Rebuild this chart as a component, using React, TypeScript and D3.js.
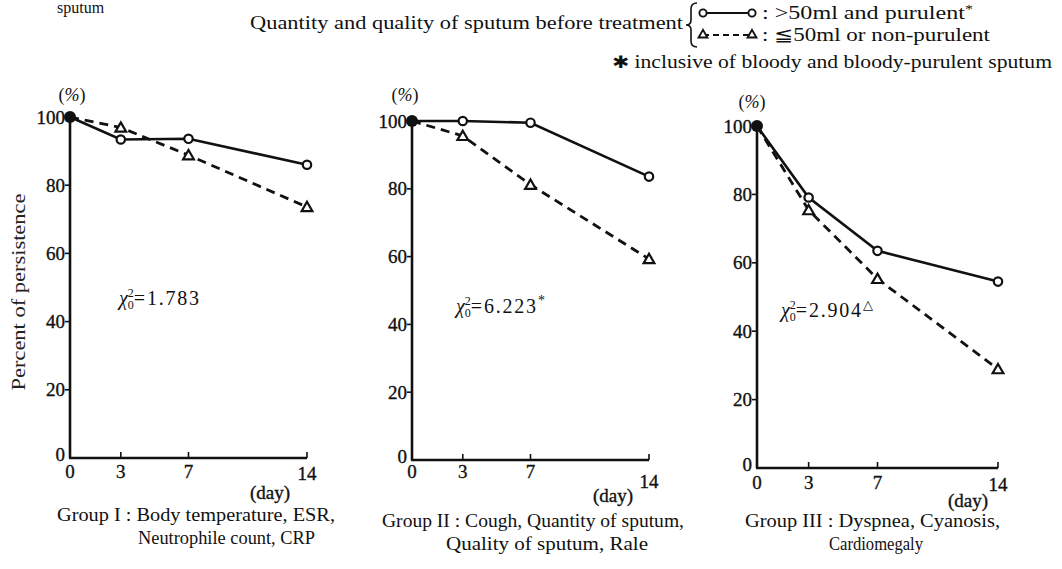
import * as d3 from 'd3'

// days after start of treatment
const days = [0, 3, 7, 14]
const xTicks = [0, 3, 7, 14]
const yTicks = [0, 20, 40, 60, 80, 100]

// percent of persistence
const g1Purulent = [100, 93.4, 93.6, 86]
const g1NonPurulent = [100, 96.9, 88.8, 73.6]
const g2Purulent = [100, 100, 99.5, 83.6]
const g2NonPurulent = [100, 95.6, 81.2, 59.3]
const g3Purulent = [100, 79.1, 63.5, 54.5]
const g3NonPurulent = [100, 75.4, 55.3, 28.9]

const chiValues = ['1.783', '6.223', '2.904']
const chiMarks = ['', '*', '△']

const captions = [
  ['Group I : Body temperature, ESR,', 'Neutrophile count, CRP'],
  ['Group II : Cough, Quantity of sputum,', 'Quality of sputum, Rale'],
  ['Group III : Dyspnea, Cyanosis,', 'Cardiomegaly'],
]

const headerText = 'Quantity and quality of sputum before treatment'
const legendLabels = [': >50ml and purulent', ': ≦50ml or non-purulent']
const footnote = ' inclusive of bloody and bloody-purulent sputum'

const purulent = [g1Purulent, g2Purulent, g3Purulent]
const nonPurulent = [g1NonPurulent, g2NonPurulent, g3NonPurulent]

// where each panel sits on the page
const layout = [
  { left: 70, right: 307, top: 117, bottom: 458, pct: [72, 101], day: [270, 499], tickY: 478, lastTickY: 480, chi: [119, 305], cap: [[57, 521, 278], [138, 544, 177]] },
  { left: 412, right: 649, top: 121, bottom: 460, pct: [405, 101], day: [613, 502], tickY: 478, lastTickY: 488, chi: [456, 313], cap: [[382, 527, 302], [446, 550, 202]] },
  { left: 757, right: 998, top: 126, bottom: 468, pct: [752, 108], day: [968, 507], tickY: 489, lastTickY: 491, chi: [781, 317], cap: [[745, 527, 255], [829, 550, 94]] },
]

const ink = '#111'
const serif = '"Liberation Serif", "DejaVu Serif", serif'
const triangle = d3.symbol(d3.symbolTriangle, 50)()
const smallTriangle = d3.symbol(d3.symbolTriangle, 34)()

function Panel({ i }: { i: number }) {
  const L = layout[i]
  const x = d3.scaleLinear().domain([0, 14]).range([L.left, L.right])
  const y = d3.scaleLinear().domain([0, 100]).range([L.bottom, L.top])
  const line = d3
    .line<number>()
    .x((_, k) => x(days[k]))
    .y((d) => y(d))
  const num = { fontSize: 19, fontFamily: serif, fill: ink, stroke: ink, strokeWidth: 0.35 }

  return (
    <g>
      {/* axes */}
      <line x1={x(0)} y1={y(100)} x2={x(0)} y2={y(0)} stroke={ink} strokeWidth={2.6} />
      <line x1={x(0) - 1} y1={y(0)} x2={x(14)} y2={y(0)} stroke={ink} strokeWidth={2.6} />
      {yTicks.map((t) => (
        <g key={'y' + t}>
          {t > 0 && t < 100 && <line x1={x(0) - 5} x2={x(0)} y1={y(t)} y2={y(t)} stroke={ink} strokeWidth={1.6} />}
          <text x={x(0) - 5} y={y(t) - (t === 0 ? 4 : 0)} dy="0.35em" textAnchor="end" {...num}>
            {t}
          </text>
        </g>
      ))}
      {xTicks.map((t) => (
        <g key={'x' + t}>
          {t > 0 && <line x1={x(t)} x2={x(t)} y1={y(0)} y2={y(0) - 6} stroke={ink} strokeWidth={1.6} />}
          <text x={x(t)} y={t === 14 ? L.lastTickY : L.tickY} textAnchor="middle" {...num}>
            {t}
          </text>
        </g>
      ))}
      <text x={L.pct[0]} y={L.pct[1]} textAnchor="middle" fontSize={18} fontFamily={serif} fill={ink}>
        (<tspan fontStyle="italic">%</tspan>)
      </text>
      <text x={L.day[0]} y={L.day[1]} textAnchor="middle" {...num}>
        (day)
      </text>

      {/* series */}
      <path d={line(nonPurulent[i]) || ''} fill="none" stroke={ink} strokeWidth={2.8} strokeDasharray="9 6" />
      <path d={line(purulent[i]) || ''} fill="none" stroke={ink} strokeWidth={2.6} />
      {purulent[i].map((v, k) =>
        k === 0 ? null : (
          <circle key={'c' + k} cx={x(days[k])} cy={y(v)} r={4.2} fill="#fff" stroke={ink} strokeWidth={2.2} />
        )
      )}
      {nonPurulent[i].map((v, k) =>
        k === 0 ? null : (
          <path
            key={'t' + k}
            d={triangle || ''}
            transform={`translate(${x(days[k])},${y(v) + 1})`}
            fill="#fff"
            stroke={ink}
            strokeWidth={2.2}
          />
        )
      )}
      <circle cx={x(0)} cy={y(100)} r={6} fill={ink} />

      {/* chi-square */}
      <text x={L.chi[0]} y={L.chi[1]} fontSize={20} fontFamily={serif} fill={ink}>
        <tspan fontStyle="italic">χ</tspan>
        <tspan fontSize={12} dy={4}>0</tspan>
        <tspan fontSize={12} dx={-6} dy={-12}>2</tspan>
        <tspan dy={8} letterSpacing={1.8}>={chiValues[i]}</tspan>
        {chiMarks[i] && (
          <tspan fontSize={chiMarks[i] === '*' ? 14 : 13} dy={-8}>
            {chiMarks[i]}
          </tspan>
        )}
      </text>

      {/* caption */}
      {captions[i].map((c, k) => (
        <text
          key={'cap' + k}
          x={L.cap[k][0]}
          y={L.cap[k][1]}
          fontSize={18}
          fontFamily={serif}
          fill={ink}
          textLength={L.cap[k][2]}
          lengthAdjust="spacingAndGlyphs"
        >
          {c}
        </text>
      ))}
    </g>
  )
}

export default function App() {
  return (
    <svg width={1062} height={569} style={{ position: 'absolute', left: 0, top: 0, background: '#fff' }}>
      <text x={57} y={13} fontSize={16} fontFamily={serif} fill={ink}>
        sputum
      </text>

      {/* header and legend */}
      <text x={250} y={29} fontSize={19} fontFamily={serif} fill={ink} textLength={433} lengthAdjust="spacingAndGlyphs">
        {headerText}
      </text>
      <path
        d="M697 3 Q691 3 691 9 L691 20 Q691 25 686 25 Q691 25 691 30 L691 41 Q691 47 697 47"
        fill="none"
        stroke={ink}
        strokeWidth={1.6}
      />
      <line x1={703} x2={752} y1={13} y2={13} stroke={ink} strokeWidth={2.2} />
      <circle cx={703} cy={13} r={3.6} fill="#fff" stroke={ink} strokeWidth={1.9} />
      <circle cx={752} cy={13} r={3.6} fill="#fff" stroke={ink} strokeWidth={1.9} />
      <line x1={703} x2={752} y1={35} y2={35} stroke={ink} strokeWidth={2.2} strokeDasharray="6 4" />
      <path d={smallTriangle || ''} transform="translate(703,35)" fill="#fff" stroke={ink} strokeWidth={1.9} />
      <path d={smallTriangle || ''} transform="translate(752,35)" fill="#fff" stroke={ink} strokeWidth={1.9} />
      <text x={762} y={19} fontSize={18} fontFamily={serif} fill={ink} textLength={211} lengthAdjust="spacingAndGlyphs">
        {legendLabels[0]}
        <tspan fontSize={12} dy={-6}>*</tspan>
      </text>
      <text x={762} y={41} fontSize={18} fontFamily={serif} fill={ink} textLength={228} lengthAdjust="spacingAndGlyphs">
        {legendLabels[1]}
      </text>
      <text x={612} y={68} fontSize={18} fontFamily={serif} fill={ink} textLength={440} lengthAdjust="spacingAndGlyphs">
        <tspan fontSize={17} fontFamily='"DejaVu Sans", sans-serif'>✱</tspan>
        <tspan>{footnote}</tspan>
      </text>

      {/* y-axis title */}
      <text
        transform="translate(25,292) rotate(-90)"
        textAnchor="middle"
        fontSize={19}
        fontFamily={serif}
        fill="#222"
        textLength={197}
        lengthAdjust="spacingAndGlyphs"
      >
        Percent of persistence
      </text>

      {layout.map((_, i) => (
        <Panel key={i} i={i} />
      ))}
    </svg>
  )
}
